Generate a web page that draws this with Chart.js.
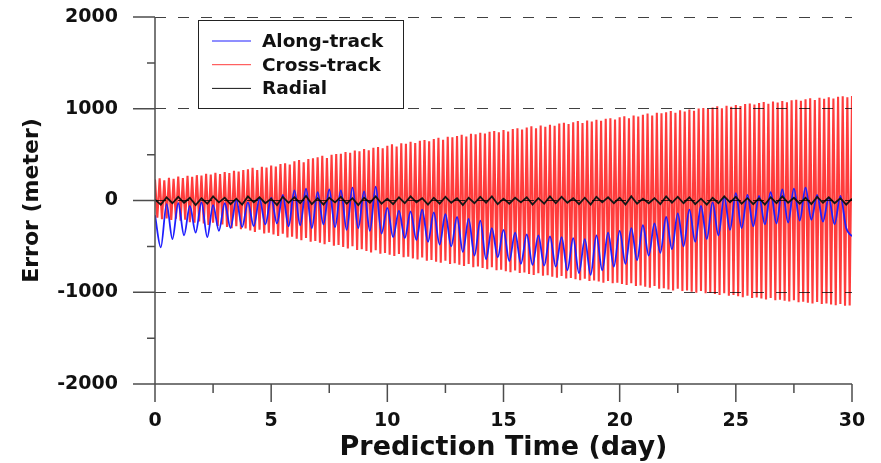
<!DOCTYPE html>
<html>
<head>
<meta charset="utf-8">
<title>Prediction error</title>
<script src="https://cdn.jsdelivr.net/npm/chart.js@4.4.1/dist/chart.umd.min.js"></script>
<style>
  body { margin: 0; background: #fff; }
  #wrapper { width: 881px; height: 463px; }
</style>
</head>
<body>
<div id="wrapper"><canvas id="grafico" width="881" height="463"></canvas></div>
<script>
"use strict";

// legend names
const seriesNames = ["Along-track", "Cross-track", "Radial"];

// labelled ticks (minor ticks sit halfway between)
const xTicks = [0, 5, 10, 15, 20, 25, 30];
const yTicks = [-2000, -1000, 0, 1000, 2000];

// cross-track: top and bottom of every swing, five swings a day
const crossStep = 0.2;
const crossPeaks = [
  228, 241, 219, 247, 236,  262, 244, 270, 258, 276,  271, 292, 283, 301, 288,
  311, 298, 324, 316, 333,  340, 356, 331, 368, 359,  381, 369, 398, 405, 392,
  428, 441, 417, 452, 460,  470, 487, 463, 498, 506,  508, 529, 521, 544, 536,
  561, 548, 575, 583, 569,  597, 612, 588, 623, 617,  641, 626, 652, 660, 646,
  671, 684, 662, 695, 689,  703, 716, 698, 727, 721,  738, 729, 749, 757, 744,
  768, 752, 779, 786, 773,  795, 808, 787, 816, 803,  826, 814, 839, 846, 833,
  853, 866, 845, 873, 862,  880, 869, 891, 897, 884,  906, 918, 897, 927, 915,
  934, 948, 926, 957, 951,  962, 975, 956, 983, 970,  991, 979, 1002, 1008, 996,
  1013, 1027, 1005, 1032, 1021,  1040, 1029, 1051, 1058, 1046,  1063, 1074, 1055, 1079, 1068,
  1084, 1072, 1093, 1098, 1088,  1103, 1114, 1096, 1119, 1109,  1124, 1112, 1131, 1137, 1126,
  1140
];
const crossTroughs = [
  -186, -203, -195, -212, -199,  -221, -209, -236, -242, -228,  -251, -266, -243, -277, -262,
  -288, -301, -279, -314, -306,  -326, -344, -318, -359, -351,  -371, -386, -362, -404, -395,
  -416, -432, -408, -449, -441,  -461, -477, -453, -494, -486,  -506, -522, -498, -539, -531,
  -551, -566, -543, -580, -572,  -591, -606, -583, -619, -612,  -631, -644, -622, -656, -649,
  -666, -679, -657, -691, -684,  -701, -714, -693, -726, -719,  -736, -749, -727, -761, -754,
  -770, -782, -762, -791, -785,  -800, -812, -792, -821, -815,  -830, -842, -822, -851, -845,
  -859, -870, -852, -877, -871,  -884, -895, -877, -902, -896,  -910, -922, -902, -931, -925,
  -940, -952, -932, -961, -955,  -969, -980, -962, -987, -981,  -994, -1005, -987, -1012, -1006,
  -1019, -1030, -1012, -1037, -1031,  -1044, -1055, -1037, -1062, -1056,  -1069, -1080, -1062, -1087, -1081,
  -1093, -1102, -1087, -1108, -1103,  -1113, -1122, -1107, -1128, -1123,  -1133, -1142, -1127, -1148, -1143
];

// along-track: one value every 6 hours
const alongStep = 0.25;
const alongTrack = [
  -160, -510, -40, -420,   -30, -380, -60, -350,   -20, -400, -50, -330,
  -30, -300, 10, -290,     -20, -280, 20, -260,    30, -250, 60, -280,
  110, -270, 130, -300,    90, -260, 120, -290,    110, -320, 140, -300,
  100, -330, 150, -360,    -80, -400, -110, -410,  -120, -430, -100, -450,
  -130, -480, -150, -500,  -180, -560, -200, -600, -220, -640, -300, -620,
  -320, -660, -350, -690,  -370, -700, -380, -710, -390, -720, -400, -760,
  -410, -790, -420, -810,  -380, -760, -350, -720, -330, -690, -300, -650,
  -270, -600, -250, -570,  -180, -530, -140, -500, -100, -450, -60, -420,
  -20, -380, 40, -320,     80, -300, 60, -280,     50, -260, 90, -250,
  120, -240, 130, -220,    140, -210, 60, -230,    30, -260, 50, -300,
  -390
];

// radial: one value every 6 hours
const radialStep = 0.25;
const radial = [
  10, -45, 35, -30,  40, -25, 30, -50,  25, -35, 45, -20,  30, -40, 20, -45,
  45, -20, 35, -30,  20, -50, 40, -25,  35, -30, 50, -40,  25, -45, 30, -20,
  40, -35, 25, -50,  30, -25, 45, -35,  20, -40, 35, -30,  45, -20, 25, -45,
  30, -35, 40, -25,  25, -50, 30, -30,  40, -25, 45, -40,  20, -35, 30, -20,
  35, -45, 25, -35,  45, -30, 40, -25,  25, -40, 30, -45,  40, -20, 35, -30,
  30, -45, 45, -35,  20, -30, 25, -40,  45, -25, 40, -30,  35, -40, 20, -45,
  30, -30, 45, -20,  40, -35, 25, -40,  25, -45, 35, -30,  45, -25, 30, -35,
  30, -40, 40, -25,  35, -30, 25, -45,
  20
];

function isLabelled(list, v) {
  return list.some(t => Math.abs(t - v) < 1e-6);
}

function crossPoints() {
  let out = [];
  for (let i = 0; i < crossPeaks.length; i++) {
    out.push({ x: i * crossStep, y: crossPeaks[i] });
    if (i < crossTroughs.length)
      out.push({ x: i * crossStep + crossStep / 2, y: crossTroughs[i] });
  }
  return out;
}

function stepPoints(values, step) {
  return values.map((v, i) => ({ x: i * step, y: v }));
}

// axis lines plus long/short tick marks
const axisLines = {
  id: "axisLines",
  afterDraw(chart) {
    const ctx = chart.ctx;
    const a = chart.chartArea;
    const xs = chart.scales.x;
    const ys = chart.scales.y;
    ctx.save();
    ctx.strokeStyle = "#4d4d4d";
    ctx.lineWidth = 1.5;
    ctx.beginPath();
    ctx.moveTo(a.left, a.top);
    ctx.lineTo(a.left, a.bottom);
    ctx.lineTo(a.right, a.bottom);
    for (const t of xs.ticks) {
      const px = xs.getPixelForValue(t.value);
      const len = isLabelled(xTicks, t.value) ? 18 : 9;
      ctx.moveTo(px, a.bottom);
      ctx.lineTo(px, a.bottom + len);
    }
    for (const t of ys.ticks) {
      const py = ys.getPixelForValue(t.value);
      const len = isLabelled(yTicks, t.value) ? 22 : 8;
      ctx.moveTo(a.left - len, py);
      ctx.lineTo(a.left, py);
    }
    ctx.stroke();
    ctx.restore();
  }
};

// boxed legend in the upper left of the plot
const boxLegend = {
  id: "boxLegend",
  afterDraw(chart) {
    const ctx = chart.ctx;
    const left = 198, top = 20, right = 403, bottom = 108;
    ctx.save();
    ctx.fillStyle = "#fff";
    ctx.fillRect(left, top, right - left, bottom - top);
    ctx.strokeStyle = "#222";
    ctx.lineWidth = 1;
    ctx.strokeRect(left + 0.5, top + 0.5, right - left, bottom - top);
    ctx.font = "bold 18.5px 'DejaVu Sans', sans-serif";
    ctx.textBaseline = "middle";
    ctx.fillStyle = "#111";
    chart.data.datasets.forEach((ds, i) => {
      const y = 41 + i * 23.7;
      ctx.strokeStyle = ds.borderColor;
      ctx.lineWidth = 1;
      ctx.beginPath();
      ctx.moveTo(212, y);
      ctx.lineTo(251, y);
      ctx.stroke();
      ctx.fillText(ds.label, 262, y + 1);
    });
    ctx.restore();
  }
};

window.onload = function () {
  Chart.defaults.font.family = "'DejaVu Sans', sans-serif";
  Chart.defaults.font.weight = "bold";
  Chart.defaults.color = "#111";

  let canvas = document.getElementById("grafico");
  let chart = new Chart(canvas, {
    type: "line",
    data: {
      datasets: [
        {
          label: seriesNames[0],
          data: stepPoints(alongTrack, alongStep),
          borderColor: "rgb(30, 30, 255)",
          borderWidth: 1.8,
          cubicInterpolationMode: "monotone",
          pointRadius: 0,
          order: 2
        },
        {
          label: seriesNames[1],
          data: crossPoints(),
          borderColor: "rgb(255, 60, 60)",
          borderWidth: 2.1,
          tension: 0,
          pointRadius: 0,
          order: 3
        },
        {
          label: seriesNames[2],
          data: stepPoints(radial, radialStep),
          borderColor: "#161616",
          borderWidth: 1.8,
          tension: 0,
          pointRadius: 0,
          order: 1
        }
      ]
    },
    options: {
      responsive: false,
      animation: false,
      layout: { padding: { top: 17, right: 29, left: 0, bottom: 0 } },
      plugins: {
        legend: { display: false },
        tooltip: { enabled: false }
      },
      scales: {
        x: {
          type: "linear",
          min: 0,
          max: 30,
          afterFit: function (s) { s.height = 79; s.paddingLeft = 0; s.paddingRight = 0; },
          border: { display: false },
          grid: { drawOnChartArea: false, tickLength: 18, tickColor: "rgba(0,0,0,0)" },
          ticks: {
            stepSize: 2.5,
            autoSkip: false,
            maxRotation: 0,
            padding: 8,
            font: { size: 19, weight: "bold" },
            callback: v => isLabelled(xTicks, v) ? String(v) : ""
          },
          title: {
            display: true,
            text: "Prediction Time (day)",
            font: { size: 27, weight: "bold", lineHeight: 1 },
            padding: { top: 0, bottom: 2 }
          }
        },
        y: {
          min: -2000,
          max: 2000,
          afterFit: function (s) { s.width = 155; s.paddingTop = 0; s.paddingBottom = 0; },
          border: { display: false, dash: [11, 12] },
          grid: {
            z: 1,
            tickLength: 22,
            tickColor: "rgba(0,0,0,0)",
            color: c => (c.tick && isLabelled(yTicks, c.tick.value) && c.tick.value > -2000)
              ? "rgba(0,0,0,0.75)" : "rgba(0,0,0,0)"
          },
          ticks: {
            stepSize: 500,
            autoSkip: false,
            padding: 15,
            font: { size: 19, weight: "bold" },
            callback: v => isLabelled(yTicks, v) ? String(v) : ""
          },
          title: {
            display: true,
            text: "Error (meter)",
            font: { size: 22, weight: "bold", lineHeight: 1.2 },
            padding: { top: 19, bottom: 0 }
          }
        }
      }
    },
    plugins: [axisLines, boxLegend]
  });
};
</script>
</body>
</html>
